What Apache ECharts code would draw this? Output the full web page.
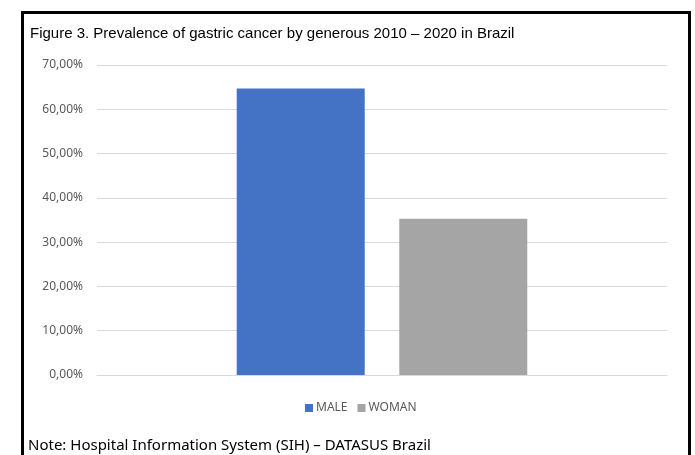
<!DOCTYPE html>
<html>
<head>
<meta charset="utf-8">
<script src="https://cdn.jsdelivr.net/npm/echarts@6/dist/echarts.min.js"></script>
<style>
  html, body { margin: 0; padding: 0; background: #fff; }
  #chart { width: 695px; height: 455px; }
</style>
</head>
<body>
<div id="chart"></div>
<script>
// Prevalence of gastric cancer by sex, Brazil 2010–2020 (percent of cases)
const categories = [''];
const seriesNames = ['MALE', 'WOMAN'];
const maleValues = [64.7];
const womanValues = [35.3];
const yTicks = [0, 10, 20, 30, 40, 50, 60, 70];

const chart = echarts.init(document.getElementById('chart'), null, { renderer: 'canvas' });

const pct = v => v.toFixed(2).replace('.', ',') + '%';

chart.setOption({
  animation: false,
  backgroundColor: '#ffffff',
  title: {
    text: 'Figure 3. Prevalence of gastric cancer by generous 2010 \u2013 2020 in Brazil',
    left: 25,
    top: 21,
    textStyle: {
      fontFamily: 'Liberation Sans, Arial, sans-serif',
      fontSize: 15,
      fontWeight: 'normal',
      color: '#000000'
    }
  },
  grid: { left: 97, right: 28, top: 65, bottom: 80 },
  legend: {
    data: seriesNames,
    left: 300,
    top: 397,
    itemWidth: 8,
    itemHeight: 8,
    itemGap: 10,
    icon: 'rect',
    textStyle: { fontFamily: 'Noto Sans, sans-serif', fontSize: 12, color: '#595959', padding: [0, 0, 0, -2] }
  },
  xAxis: {
    type: 'category',
    data: categories,
    axisLine: { lineStyle: { color: '#d9d9d9', width: 1 } },
    axisTick: { show: false },
    axisLabel: { show: false }
  },
  yAxis: {
    type: 'value',
    min: yTicks[0],
    max: yTicks[yTicks.length - 1],
    interval: 10,
    axisLine: { show: false },
    axisTick: { show: false },
    splitLine: { lineStyle: { color: '#d9d9d9', width: 1 } },
    axisLabel: {
      formatter: pct,
      margin: 14,
      fontFamily: 'Noto Sans, sans-serif',
      fontSize: 12,
      color: '#595959'
    }
  },
  series: [
    {
      name: seriesNames[0],
      type: 'bar',
      data: maleValues,
      barWidth: 128,
      barGap: '27%',
      itemStyle: { color: '#4472C4' }
    },
    {
      name: seriesNames[1],
      type: 'bar',
      data: womanValues,
      barWidth: 128,
      itemStyle: { color: '#A5A5A5' }
    }
  ],
  graphic: [
    {
      type: 'rect',
      shape: { x: 22.5, y: 12.5, width: 667, height: 500 },
      style: { fill: null, stroke: '#000000', lineWidth: 3 },
      silent: true
    },
    {
      type: 'text',
      left: 28,
      top: 438,
      style: {
        text: 'Note: Hospital Information System (SIH) \u2013 DATASUS Brazil',
        fontFamily: 'Noto Sans, sans-serif',
        fontSize: 15,
        fill: '#000000'
      }
    }
  ]
});
</script>
</body>
</html>
